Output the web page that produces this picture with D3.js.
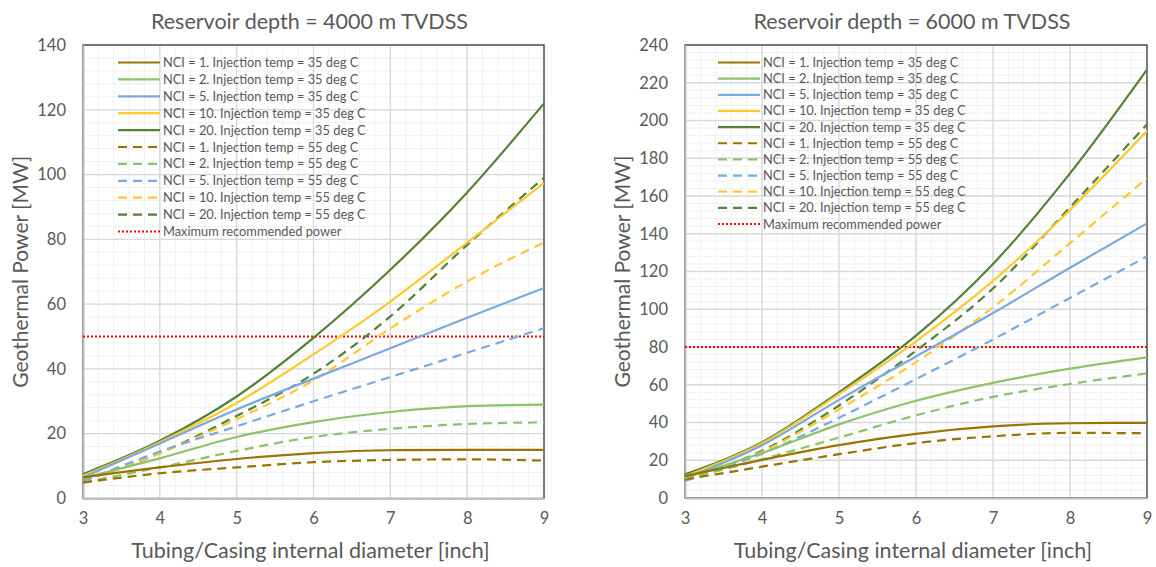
<!DOCTYPE html>
<html>
<head>
<meta charset="utf-8">
<script src="https://cdn.jsdelivr.net/npm/d3@7"></script>
<style>
body { margin:0; background:#fff; }
text { font-family: Lato, "Open Sans", sans-serif; fill:#595959; }
</style>
</head>
<body>
<svg id="chart" width="1156" height="567"></svg>
<script>
// tubing / casing internal diameter [inch]
var diameters = [3, 4, 5, 6, 7, 8, 9]
var nciValues = [1, 2, 5, 10, 20]
var injectionTemps = [35, 55]

// depth 4000 m, power [MW]
var d4000_t35_nci1 = [6.5, 9.6, 12.2, 14.0, 14.9, 15.0, 15.0]
var d4000_t35_nci2 = [6.2, 12.4, 19.0, 23.6, 26.7, 28.5, 29.0]
var d4000_t35_nci5 = [6.5, 17.0, 27.5, 37.0, 46.4, 55.8, 65.0]
var d4000_t35_nci10 = [7.0, 17.4, 29.5, 44.5, 60.8, 79.0, 97.4]
var d4000_t35_nci20 = [7.5, 17.8, 31.5, 49.6, 70.6, 94.5, 122.0]
var d4000_t55_nci1 = [4.9, 7.8, 9.6, 11.2, 11.9, 12.1, 11.7]
var d4000_t55_nci2 = [5.0, 9.6, 14.7, 19.0, 21.5, 23.0, 23.5]
var d4000_t55_nci5 = [5.3, 14.5, 22.3, 30.0, 37.5, 45.0, 52.6]
var d4000_t55_nci10 = [5.5, 14.0, 24.5, 36.5, 52.5, 67.0, 79.0]
var d4000_t55_nci20 = [5.5, 14.0, 25.5, 38.5, 56.2, 78.3, 99.0]

// depth 6000 m, power [MW]
var d6000_t35_nci1 = [11.6, 20.2, 28.0, 34.0, 37.9, 39.6, 39.8]
var d6000_t35_nci2 = [10.7, 23.8, 39.0, 51.5, 61.0, 68.5, 74.5]
var d6000_t35_nci5 = [10.5, 28.0, 52.0, 75.0, 98.0, 122.0, 145.5]
var d6000_t35_nci10 = [11.5, 29.0, 55.0, 83.0, 115.0, 152.6, 194.5]
var d6000_t35_nci20 = [12.5, 29.5, 56.0, 86.0, 124.0, 172.0, 227.0]
var d6000_t55_nci1 = [9.8, 16.6, 23.2, 29.1, 32.7, 34.5, 34.3]
var d6000_t55_nci2 = [9.8, 20.5, 32.0, 43.8, 53.6, 60.4, 66.0]
var d6000_t55_nci5 = [9.0, 23.5, 42.5, 63.0, 84.0, 106.0, 128.0]
var d6000_t55_nci10 = [9.5, 24.5, 47.0, 72.0, 101.0, 135.0, 169.5]
var d6000_t55_nci20 = [10.0, 25.0, 49.0, 78.0, 111.0, 154.0, 198.0]

var maxPower4000 = 50
var maxPower6000 = 80
var titles = ["Reservoir depth = 4000 m TVDSS", "Reservoir depth = 6000 m TVDSS"]
var yMax = [140, 240]
var xLabel = "Tubing/Casing internal diameter [inch]"
var yLabel = "Geothermal Power [MW]"
var maxLabel = "Maximum recommended power"

var nciColors = ["#9C7200", "#8CC36A", "#78AADF", "#FFC832", "#548235"]

var makeSeries = function(t35, t55)
{
    var series = []
    injectionTemps.forEach(function(temp, ti)
    {
        var set = ti == 0 ? t35 : t55
        nciValues.forEach(function(nci, i)
        {
            series.push({
                label: "NCI = " + nci + ". Injection temp = " + temp + " deg C",
                color: nciColors[i],
                dashed: ti == 1,
                values: set[i]
            })
        })
    })
    return series
}

var panels = [
    {
        title: titles[0], yMax: yMax[0], maxPower: maxPower4000,
        plot: {left:83, right:544, top:45, bottom:498.5},
        legend: {x:118, y:62.5, step:16.9},
        series: makeSeries(
            [d4000_t35_nci1, d4000_t35_nci2, d4000_t35_nci5, d4000_t35_nci10, d4000_t35_nci20],
            [d4000_t55_nci1, d4000_t55_nci2, d4000_t55_nci5, d4000_t55_nci10, d4000_t55_nci20])
    },
    {
        title: titles[1], yMax: yMax[1], maxPower: maxPower6000,
        plot: {left:685, right:1147, top:45, bottom:498},
        legend: {x:718, y:62.5, step:16.15},
        series: makeSeries(
            [d6000_t35_nci1, d6000_t35_nci2, d6000_t35_nci5, d6000_t35_nci10, d6000_t35_nci20],
            [d6000_t55_nci1, d6000_t55_nci2, d6000_t55_nci5, d6000_t55_nci10, d6000_t55_nci20])
    }
]

var drawPanel = function(svg, panel)
{
    var p = panel.plot
    var xScale = d3.scaleLinear()
        .domain([3, 9])
        .range([p.left, p.right])
    var yScale = d3.scaleLinear()
        .domain([0, panel.yMax])
        .range([p.bottom, p.top])

    var g = svg.append("g")

    // minor grid
    g.selectAll(".minorX")
        .data(d3.range(3, 9.001, 0.2))
        .enter()
        .append("line")
        .attr("x1", function(d){ return xScale(d) })
        .attr("x2", function(d){ return xScale(d) })
        .attr("y1", p.top).attr("y2", p.bottom)
        .attr("stroke", "#f0f0f0").attr("stroke-width", 1)
    g.selectAll(".minorY")
        .data(d3.range(0, panel.yMax + 0.001, 4))
        .enter()
        .append("line")
        .attr("x1", p.left).attr("x2", p.right)
        .attr("y1", function(d){ return yScale(d) })
        .attr("y2", function(d){ return yScale(d) })
        .attr("stroke", "#f0f0f0").attr("stroke-width", 1)

    // major grid
    g.selectAll(".majorX")
        .data(d3.range(3, 10, 1))
        .enter()
        .append("line")
        .attr("x1", function(d){ return xScale(d) })
        .attr("x2", function(d){ return xScale(d) })
        .attr("y1", p.top).attr("y2", p.bottom)
        .attr("stroke", "#d9d9d9").attr("stroke-width", 1.3)
    g.selectAll(".majorY")
        .data(d3.range(0, panel.yMax + 1, 20))
        .enter()
        .append("line")
        .attr("x1", p.left).attr("x2", p.right)
        .attr("y1", function(d){ return yScale(d) })
        .attr("y2", function(d){ return yScale(d) })
        .attr("stroke", "#d9d9d9").attr("stroke-width", 1.3)

    // border
    g.append("rect")
        .attr("x", p.left).attr("y", p.top)
        .attr("width", p.right - p.left).attr("height", p.bottom - p.top)
        .attr("fill", "none").attr("stroke", "#404040").attr("stroke-width", 1.3)

    // axes
    var xAxis = d3.axisBottom(xScale).tickValues(d3.range(3, 10, 1)).tickFormat(d3.format("d")).tickSize(0).tickPadding(14)
    var yAxis = d3.axisLeft(yScale).tickValues(d3.range(0, panel.yMax + 1, 20)).tickFormat(d3.format("d")).tickSize(0).tickPadding(17)
    var gx = g.append("g").attr("transform", "translate(0," + p.bottom + ")").call(xAxis)
    var gy = g.append("g").attr("transform", "translate(" + p.left + ",0)").call(yAxis)
    ;[gx, gy].forEach(function(a)
    {
        a.select(".domain").attr("stroke", "#bfbfbf").attr("stroke-width", 2)
        a.selectAll("text").style("font-size", "16.5px").attr("fill", "#595959")
            .style("font-family", "Lato, sans-serif")
    })

    // titles
    var cx = (p.left + p.right) / 2
    g.append("text")
        .attr("x", cx - 4).attr("y", 29)
        .attr("text-anchor", "middle")
        .style("font-size", "21.5px")
        .text(panel.title)
    g.append("text")
        .attr("x", cx - 3).attr("y", 558)
        .attr("text-anchor", "middle")
        .style("font-size", "21.5px")
        .text(xLabel)
    g.append("text")
        .attr("transform", "translate(" + (p.left - 55) + "," + ((p.top + p.bottom) / 2) + ") rotate(-90)")
        .attr("text-anchor", "middle")
        .style("font-size", "21px")
        .text(yLabel)

    // max recommended power
    g.append("line")
        .attr("x1", p.left).attr("x2", p.right)
        .attr("y1", yScale(panel.maxPower)).attr("y2", yScale(panel.maxPower))
        .attr("stroke", "#ff0000").attr("stroke-width", 2)
        .attr("stroke-dasharray", "2,2")

    // series
    var line = d3.line()
        .x(function(d, i){ return xScale(diameters[i]) })
        .y(function(d){ return yScale(d) })
        .curve(d3.curveMonotoneX)

    g.selectAll(".series")
        .data(panel.series.slice().reverse())
        .enter()
        .append("path")
        .attr("d", function(s){ return line(s.values) })
        .attr("fill", "none")
        .attr("stroke", function(s){ return s.color })
        .attr("stroke-width", 2.2)
        .attr("stroke-dasharray", function(s){ return s.dashed ? "9,6" : null })

    // legend
    var L = panel.legend
    var items = panel.series.map(function(s){ return s })
    items.push({label: maxLabel, color: "#ff0000", dotted: true})
    var rows = g.selectAll(".legendRow")
        .data(items)
        .enter()
        .append("g")
        .attr("transform", function(d, i){ return "translate(" + L.x + "," + (L.y + i * L.step) + ")" })
    rows.append("line")
        .attr("x1", 0).attr("x2", 42)
        .attr("stroke", function(d){ return d.color })
        .attr("stroke-width", function(d){ return d.dotted ? 2 : 2.2 })
        .attr("stroke-dasharray", function(d){ return d.dotted ? "2,2" : (d.dashed ? "9,6" : null) })
    rows.append("text")
        .attr("x", 45).attr("y", 4.5)
        .style("font-size", "12.8px")
        .text(function(d){ return d.label })
}

var svg = d3.select("#chart")
panels.forEach(function(panel)
{
    drawPanel(svg, panel)
})
</script>
</body>
</html>
